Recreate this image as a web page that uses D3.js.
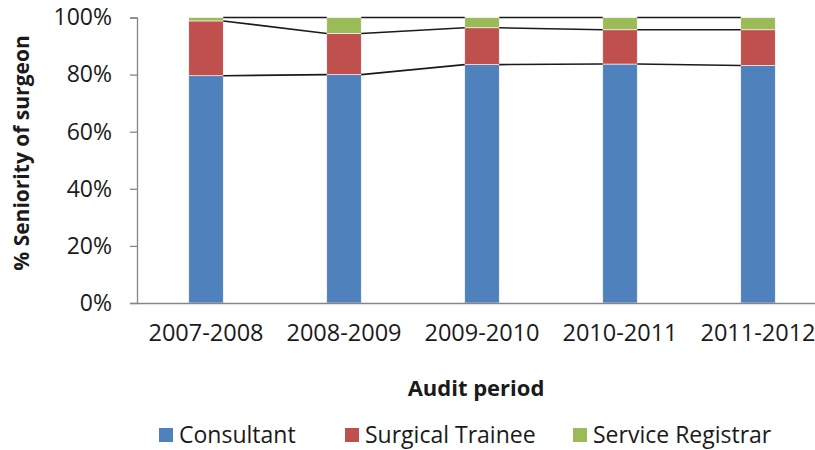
<!DOCTYPE html>
<html lang="en">
<head>
<meta charset="utf-8">
<title>Seniority of surgeon</title>
<script src="https://d3js.org/d3.v7.min.js"></script>
<style>
  body { margin: 0; background: #fff; }
  svg text { font-family: "Open Sans", "Liberation Sans", sans-serif; fill: #1a1a1a; }
</style>
</head>
<body>
<div id="chart"></div>
<script>
// data (percent of operations per audit period)
var periods = ["2007-2008", "2008-2009", "2009-2010", "2010-2011", "2011-2012"];
var consultant = [79.6, 80.0, 83.5, 83.7, 83.2];
var trainee = [19.2, 14.4, 12.9, 12.0, 12.5];
var registrar = [1.2, 5.6, 3.6, 4.3, 4.3];
var seriesNames = ["Consultant", "Surgical Trainee", "Service Registrar"];
var colors = ["#4f81bd", "#c0504d", "#9bbb59"];
var yTicks = [0, 20, 40, 60, 80, 100];

var width = 815, height = 450;
var svg = d3.select("#chart").append("svg")
    .attr("width", width).attr("height", height);

// plot area runs past the right edge, as in the cropped reference
var x = d3.scaleBand().domain(periods).range([137, 827]).paddingInner(0.75).paddingOuter(0.375);
var y = d3.scaleLinear().domain([0, 100]).range([303, 17.5]);

var rows = periods.map(function(p, i) {
  return { period: p, Consultant: consultant[i], "Surgical Trainee": trainee[i], "Service Registrar": registrar[i] };
});
var stacked = d3.stack().keys(seriesNames)(rows);

// bars
svg.selectAll(".series")
  .data(stacked)
  .enter().append("g")
    .attr("fill", function(d, i) { return colors[i]; })
  .selectAll("rect")
  .data(function(d) { return d; })
  .enter().append("rect")
    .attr("x", function(d) { return x(d.data.period); })
    .attr("width", x.bandwidth())
    .attr("y", function(d) { return y(d[1]); })
    .attr("height", function(d) { return y(d[0]) - y(d[1]); })
    .attr("stroke", "#fff")
    .attr("stroke-width", 0.6);

// series lines joining tops of each segment
stacked.forEach(function(s) {
  for (var i = 0; i < s.length - 1; i++) {
    svg.append("line")
      .attr("x1", x(periods[i]) + x.bandwidth())
      .attr("x2", x(periods[i + 1]))
      .attr("y1", y(s[i][1]))
      .attr("y2", y(s[i + 1][1]))
      .attr("stroke", "#1a1a1a")
      .attr("stroke-width", 1.6);
  }
});

// y axis
var yAxis = svg.append("g")
    .attr("transform", "translate(137,0)")
    .call(d3.axisLeft(y).tickValues(yTicks).tickSize(7).tickPadding(18)
      .tickFormat(function(d) { return d + "%"; }));
yAxis.selectAll("text").style("font-size", "23px");
yAxis.select(".domain").attr("stroke", "#868686").attr("stroke-width", 1.3);
yAxis.selectAll(".tick line").attr("stroke", "#868686").attr("stroke-width", 1.3);

// x axis baseline
var xAxis = svg.append("g")
    .attr("transform", "translate(0,303)")
    .call(d3.axisBottom(x).tickSize(0).tickPadding(21));
xAxis.select(".domain").attr("stroke", "#868686").attr("stroke-width", 1.6);
xAxis.selectAll("text").style("font-size", "23.5px");

// axis titles
svg.append("text")
    .attr("transform", "translate(29,153) rotate(-90)")
    .attr("text-anchor", "middle")
    .style("font-size", "21px").style("font-weight", "bold")
    .text("% Seniority of surgeon");

svg.append("text")
    .attr("x", 476).attr("y", 396)
    .attr("text-anchor", "middle")
    .style("font-size", "22px").style("font-weight", "bold")
    .text("Audit period");

// legend
var legendX = [159, 345, 573];
var legend = svg.selectAll(".legend")
  .data(seriesNames)
  .enter().append("g")
    .attr("transform", function(d, i) { return "translate(" + legendX[i] + ",428)"; });
legend.append("rect")
    .attr("width", 14).attr("height", 14)
    .attr("fill", function(d, i) { return colors[i]; });
legend.append("text")
    .attr("x", 20).attr("y", 15)
    .style("font-size", "23px")
    .text(function(d) { return d; });
</script>
</body>
</html>
